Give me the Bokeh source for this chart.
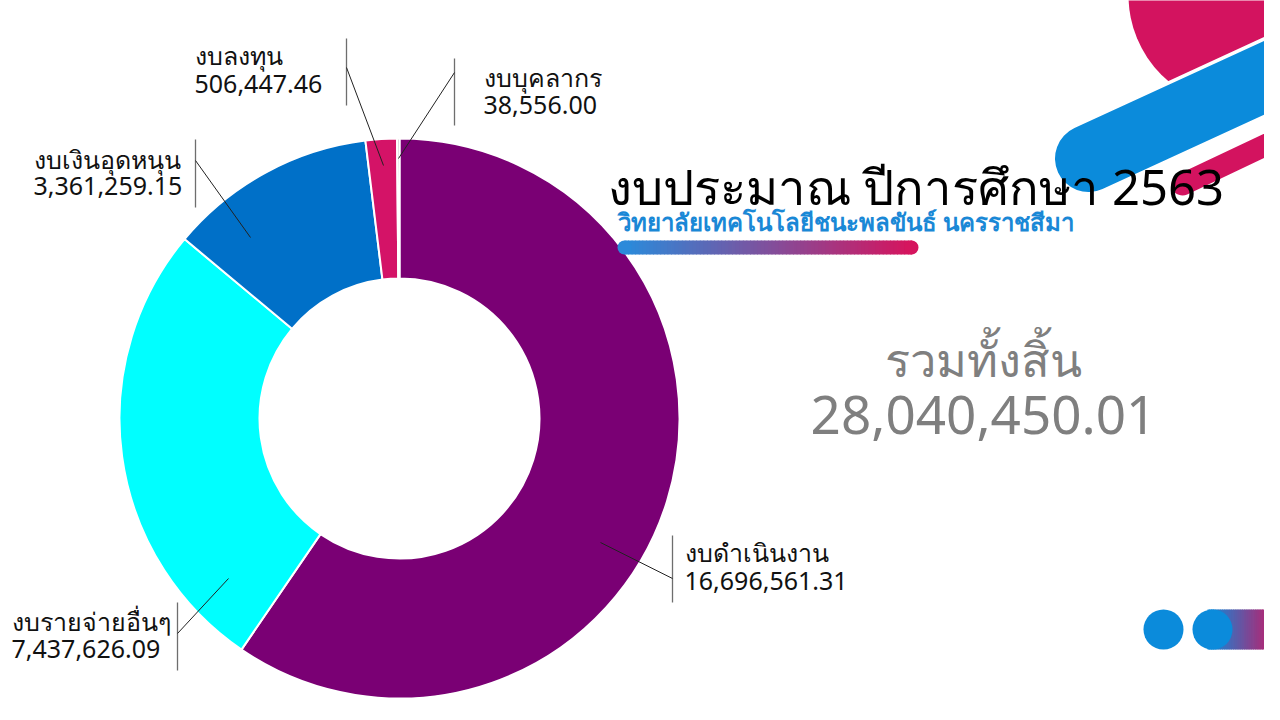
import numpy as np
from bokeh.plotting import figure
from bokeh.models import Range1d, ColumnDataSource
from bokeh.embed import file_html
from bokeh.resources import INLINE
from bokeh.core.properties import value

# ---------------- data ----------------
categories = ["งบดำเนินงาน", "งบรายจ่ายอื่นๆ", "งบเงินอุดหนุน", "งบลงทุน", "งบบุคลากร"]
amounts = [16696561.31, 7437626.09, 3361259.15, 506447.46, 38556.00]
slice_colors = ["#7A0074", "#00FFFF", "#0070C8", "#D41367", "#A5A5A5"]
title_text = "งบประมาณ ปีการศึกษา 2563"
subtitle_text = "วิทยาลัยเทคโนโลยีชนะพลขันธ์ นครราชสีมา"
total_label = "รวมทั้งสิ้น"

# ---------------- layout (pixel coordinates of the page) ----------------
FONT = value("Noto Sans")
def Y(py):
    return 720 - py

CX, CY, R_OUT, R_IN = 399, 418, 280, 140
# label text left x, line1 y, line2 y, bar x, bar y0, bar y1, diag start (x,y), diag end (x,y)
label_layout = [
    (684, 551, 580, 672, 535, 602, (600, 542), (672, 578)),
    (11, 620, 648, 177, 602, 670, (228, 578), (177, 633)),
    (33, 158, 185, 195, 139, 207, (250, 237), (195, 160)),
    (194, 54, 83, 346, 38, 105, (383, 165), (346, 67)),
    (483, 76, 104, 454, 58, 125, (398, 158), (454, 72)),
]

BLUE = "#0B8BDB"
MAG = "#D3135F"

p = figure(width=1264, height=704, x_range=Range1d(0, 1264), y_range=Range1d(16, 720),
           x_axis_type=None, y_axis_type=None, toolbar_location=None,
           output_backend="svg", min_border=0, outline_line_color=None,
           background_fill_color="white", border_fill_color="white")
p.grid.visible = False


def hex2rgb(h):
    h = h.lstrip("#")
    return tuple(int(h[i:i + 2], 16) for i in (0, 2, 4))


def grad(c1, c2, n):
    a, b = np.array(hex2rgb(c1), float), np.array(hex2rgb(c2), float)
    out = []
    for t in np.linspace(0, 1, n):
        c = a + (b - a) * t
        out.append("#%02x%02x%02x" % tuple(int(round(v)) for v in c))
    return out


# ---------------- decorations top-right ----------------
p.circle(x=[1240], y=[Y(-5)], radius=112, fill_color=MAG, line_color=None)
p.line(x=[1182, 1340], y=[Y(184), Y(109)], line_width=22, line_color=MAG, line_cap="round")
p.line(x=[1088, 1340], y=[Y(158), Y(158 - 0.46 * 252)], line_width=74, line_color="white", line_cap="round")
p.line(x=[1088, 1340], y=[Y(158), Y(158 - 0.46 * 252)], line_width=67, line_color=BLUE, line_cap="round")

# ---------------- donut ----------------
total = sum(amounts)
fr = np.array(amounts) / total
cum = np.concatenate([[0], np.cumsum(fr)])
src = ColumnDataSource(dict(
    start=np.pi / 2 - 2 * np.pi * cum[:-1],
    end=np.pi / 2 - 2 * np.pi * cum[1:],
    color=slice_colors, cat=categories, amt=amounts,
))
p.annular_wedge(x=CX, y=Y(CY), inner_radius=R_IN, outer_radius=R_OUT,
                start_angle="start", end_angle="end", direction="clock",
                fill_color="color", line_color="white", line_width=2, source=src)

# ---------------- leader lines & labels ----------------
for cat, amt, lay in zip(categories, amounts, label_layout):
    tx, ty1, ty2, bx, by0, by1, d0, d1 = lay
    p.line(x=[bx, bx], y=[Y(by0), Y(by1)], line_color="#6E6E6E", line_width=1.3)
    p.line(x=[d0[0], d1[0]], y=[Y(d0[1]), Y(d1[1])], line_color="#222222", line_width=1)
    p.text(x=[tx], y=[Y(ty1)], text=[cat], text_font=FONT, text_font_size="25px",
           text_baseline="middle", text_align="left", text_color="#111111")
    p.text(x=[tx], y=[Y(ty2)], text=[f"{amt:,.2f}"], text_font=FONT, text_font_size="25px",
           text_baseline="middle", text_align="left", text_color="#111111")

# ---------------- title ----------------
p.text(x=[607], y=[Y(185)], text=[title_text], text_font=FONT, text_font_size="49px",
       text_baseline="middle", text_align="left", text_color="#000000")
p.text(x=[617], y=[Y(221)], text=[subtitle_text], text_font=FONT, text_font_size="24px",
       text_font_style="bold", text_baseline="middle", text_align="left", text_color="#1A88D6")

# underline gradient bar
n = 80
ucols = grad("#2B8ADA", "#D5155E", n)
xs = np.linspace(624, 911, n + 1)
p.quad(left=xs[:-1], right=xs[1:] + 0.8, top=Y(240), bottom=Y(254), fill_color=ucols, line_color=None)
p.circle(x=[624], y=[Y(247)], radius=7, fill_color=ucols[0], line_color=None)
p.circle(x=[911], y=[Y(247)], radius=7, fill_color=ucols[-1], line_color=None)

# ---------------- total ----------------
p.text(x=[983], y=[Y(358)], text=[total_label], text_font=FONT, text_font_size="47px",
       text_baseline="middle", text_align="center", text_color="#7F7F7F")
p.text(x=[983], y=[Y(414)], text=[f"{total:,.2f}"], text_font=FONT, text_font_size="53px",
       text_baseline="middle", text_align="center", text_color="#7F7F7F")

# ---------------- decorations bottom-right ----------------
p.circle(x=[1163], y=[Y(629)], radius=20, fill_color=BLUE, line_color=None)
n2 = 40
bcols = grad(BLUE, MAG, n2)
xs2 = np.linspace(1207, 1280, n2 + 1)
p.quad(left=xs2[:-1], right=xs2[1:] + 0.8, top=Y(609), bottom=Y(649), fill_color=bcols, line_color=None)
p.circle(x=[1212], y=[Y(629)], radius=20, fill_color=BLUE, line_color=None)

open("out.html", "w").write(file_html(p, INLINE))
